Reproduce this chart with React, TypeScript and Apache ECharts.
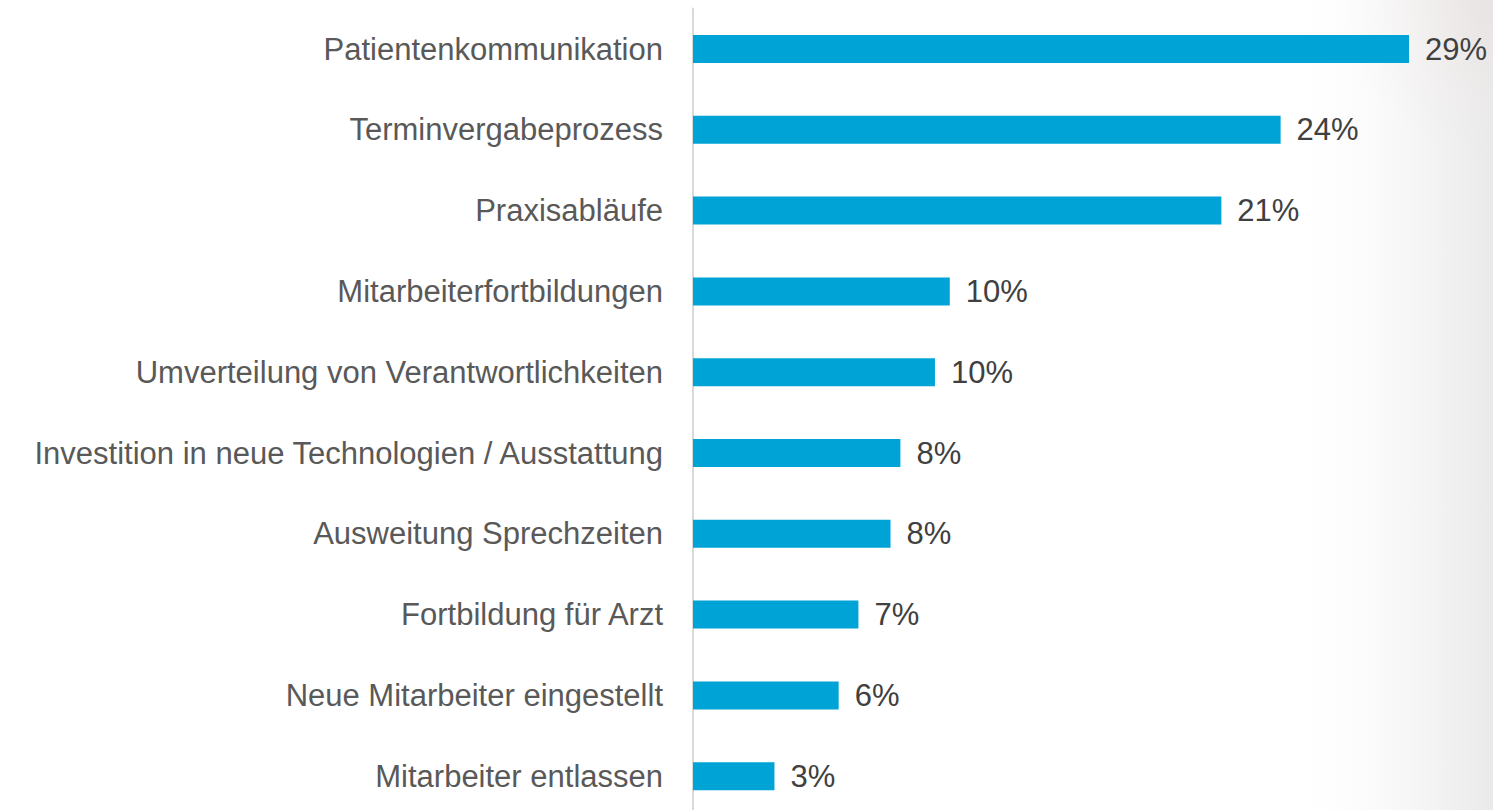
import React, { useEffect, useRef } from "react";
import * as echarts from "echarts";

const categories = [
  "Patientenkommunikation",
  "Terminvergabeprozess",
  "Praxisabläufe",
  "Mitarbeiterfortbildungen",
  "Umverteilung von Verantwortlichkeiten",
  "Investition in neue Technologien / Ausstattung",
  "Ausweitung Sprechzeiten",
  "Fortbildung für Arzt",
  "Neue Mitarbeiter eingestellt",
  "Mitarbeiter entlassen",
];
const values = [29.0, 23.8, 21.4, 10.4, 9.8, 8.4, 8.0, 6.7, 5.9, 3.3];

export default function App() {
  const ref = useRef<HTMLDivElement>(null);
  useEffect(() => {
    document.body.style.margin = "0";
    document.body.style.overflow = "hidden";
    const chart = echarts.init(ref.current!, null, { renderer: "svg" });
    chart.setOption({
      animation: false,
      backgroundColor: "#ffffff",
      graphic: [
        {
          type: "rect",
          z: -10,
          silent: true,
          shape: { x: 1280, y: 0, width: 213, height: 830 },
          style: {
            fill: {
              type: "linear",
              x: 0, y: 0, x2: 1, y2: 0,
              colorStops: [
                { offset: 0, color: "rgba(255,255,255,0)" },
                { offset: 0.6, color: "rgba(247,247,247,1)" },
                { offset: 1, color: "rgba(234,234,234,1)" },
              ],
            },
          },
        },
        {
          type: "rect",
          z: -9,
          silent: true,
          shape: { x: 1340, y: 0, width: 153, height: 160 },
          style: {
            fill: {
              type: "radial",
              x: 1, y: 0, r: 1,
              colorStops: [
                { offset: 0, color: "rgba(232,220,220,0.5)" },
                { offset: 1, color: "rgba(240,230,230,0)" },
              ],
            },
          },
        },
      ],
      grid: { left: 693, width: 740.7, top: 8.6, height: 808, containLabel: false },
      xAxis: {
        type: "value",
        min: 0,
        max: 30,
        show: false,
      },
      yAxis: {
        type: "category",
        data: categories,
        inverse: true,
        axisLine: { show: true, lineStyle: { color: "#d9d9d9", width: 2 } },
        axisTick: { show: false },
        axisLabel: {
          color: "#595959",
          fontSize: 31,
          fontFamily: "Liberation Sans, Arial, sans-serif",
          margin: 30,
        },
      },
      series: [
        {
          type: "bar",
          data: values,
          barWidth: 28,
          itemStyle: { color: "#00a3d6" },
          label: {
            show: true,
            position: "right",
            distance: 16,
            color: "#404040",
            fontSize: 31,
            fontFamily: "Liberation Sans, Arial, sans-serif",
            formatter: (p: any) => Math.round(p.value) + "%",
          },
        },
      ],
    });
    return () => chart.dispose();
  }, []);
  return (
    <div style={{ position: "fixed", left: 0, top: 0, width: 1493, height: 810, overflow: "hidden" }}>
      <div ref={ref} style={{ width: 1493, height: 830 }} />
    </div>
  );
}
